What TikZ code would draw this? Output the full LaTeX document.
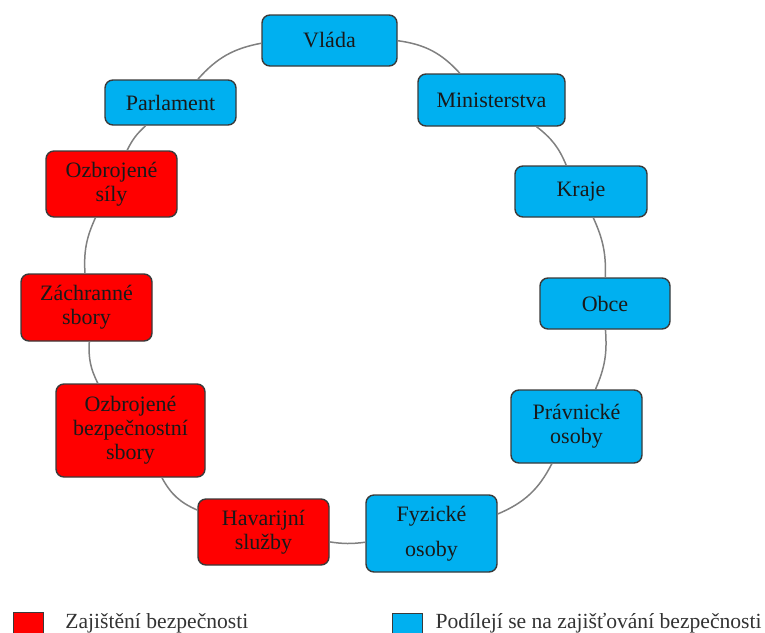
\documentclass[tikz,border=0pt]{standalone}
\usepackage{fontspec}
\setmainfont{Liberation Serif}
\definecolor{bbox}{HTML}{00B0F0}
\definecolor{rbox}{HTML}{FF0000}
\definecolor{edgegray}{HTML}{3A3A3A}
\definecolor{linkgray}{HTML}{808080}
\tikzset{
  card/.style={draw=edgegray, line width=0.7pt, rounded corners=4pt, align=center,
    inner sep=0pt, font=\fontsize{11}{12}\selectfont, text=black!90},
  bluecard/.style={card, fill=bbox},
  redcard/.style={card, fill=rbox},
  link/.style={draw=linkgray, line width=0.75pt},
  legendsq/.style={draw=edgegray, line width=0.7pt},
  legendtxt/.style={inner sep=0pt, font=\fontsize{10.8}{12}\selectfont, text=black!80}
}
\begin{document}
\begin{tikzpicture}[x=0.5pt,y=-0.5pt]
\useasboundingbox (0,0) rectangle (765,632);
\clip (0,0) rectangle (765,632);
% nodes
\node[bluecard, minimum width=67.5pt, minimum height=25.5pt] (vl) at (329.5,40.5) {Vláda};
\node[bluecard, minimum width=73.5pt, minimum height=26pt] (mi) at (491.5,100) {Ministerstva};
\node[bluecard, minimum width=66pt, minimum height=25.5pt] (kr) at (581,191.5) {Kraje};
\node[bluecard, minimum width=65pt, minimum height=25.5pt] (ob) at (605,303.5) {Obce};
\node[bluecard, minimum width=65.5pt, minimum height=36.5pt] (pr) at (576.5,426.5) {Právnické\\osoby};
\node[bluecard, minimum width=65.5pt, minimum height=38.5pt] (fy) at (431.5,533.5) {Fyzické\\[5.5pt]osoby};
\node[redcard, minimum width=65.5pt, minimum height=33pt] (ha) at (263.5,532) {Havarijní\\služby};
\node[redcard, minimum width=74.5pt, minimum height=46.5pt] (obs) at (130.5,430.5) {Ozbrojené\\bezpečnostní\\sbory};
\node[redcard, minimum width=65.5pt, minimum height=33.5pt] (za) at (86.5,307.5) {Záchranné\\sbory};
\node[redcard, minimum width=65.5pt, minimum height=33pt] (os) at (111.5,184) {Ozbrojené\\síly};
\node[bluecard, minimum width=65.5pt, minimum height=22.5pt] (pa) at (170.5,102.5) {Parlament};
% connectors
\draw[link] (vl) to[bend left=20] (mi);
\draw[link] (mi) to[bend left=15] (kr);
\draw[link] (kr) to[bend left=13] (ob);
\draw[link] (ob) to[bend left=14] (pr);
\draw[link] (pr) to[bend left=20] (fy);
\draw[link] (fy) to[bend left=8] (ha);
\draw[link] (ha) to[bend left=19] (obs);
\draw[link] (obs) to[bend left=15] (za);
\draw[link] (za) to[bend left=14] (os);
\draw[link] (os) to[bend left=11] (pa);
\draw[link] (pa) to[bend left=19] (vl);
% legend
\node[legendsq, fill=rbox, minimum width=15pt, minimum height=15pt, inner sep=0pt, anchor=north west] (lr) at (13,612) {};
\node[legendtxt, anchor=base west] (lrt) at (65,628) {Zajištění bezpečnosti};
\node[legendsq, fill=bbox, minimum width=15pt, minimum height=15pt, inner sep=0pt, anchor=north west] (lb) at (392,613) {};
\node[legendtxt, anchor=base east] (lbt) at (762,628) {Podílejí se na zajišťování bezpečnosti};
\end{tikzpicture}
\end{document}
